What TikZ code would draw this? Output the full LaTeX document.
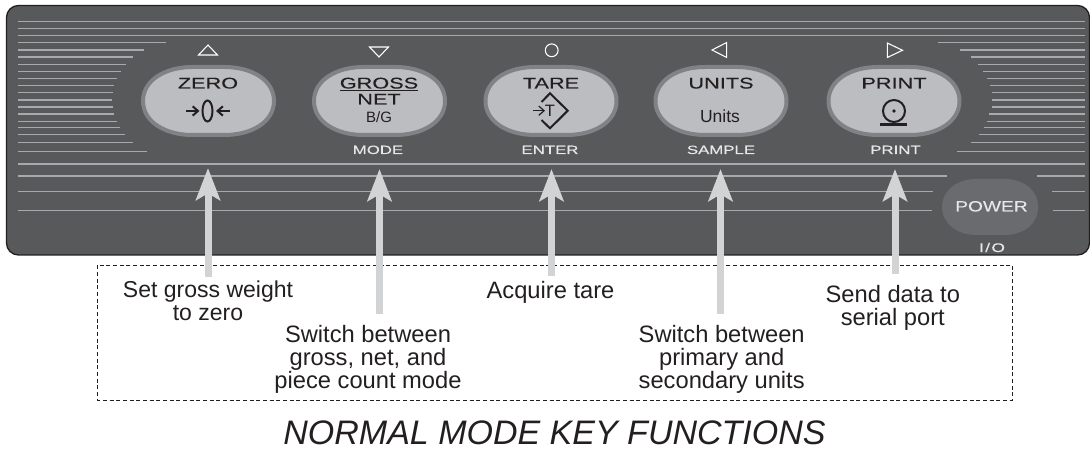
\documentclass[tikz,border=0pt]{standalone}
\usepackage{fontspec}
\usetikzlibrary{arrows.meta}
\setmainfont{Liberation Sans}
\newfontfamily\widefont[FakeStretch=1.4,FakeBold=0.15]{Liberation Sans}
\newfontfamily\powerfont[FakeStretch=1.28,FakeBold=0.15]{Liberation Sans}
\definecolor{panel}{HTML}{58595B}
\definecolor{rib}{HTML}{A7A9AC}
\definecolor{keyface}{HTML}{BCBDC0}
\definecolor{keyrim}{HTML}{808285}
\definecolor{powerface}{HTML}{6A6B6E}
\definecolor{ink}{HTML}{231F20}
\definecolor{shaft}{HTML}{D1D3D4}
\definecolor{legend}{HTML}{E6E7E8}
\newcommand{\px}[1]{\fontsize{\dimexpr#1pt*3/4\relax}{17.25pt}\selectfont}
\tikzset{
  x=0.75pt,y=-0.75pt,
  rib/.style={draw=rib,line width=0.85pt},
  keyshape/.style={draw=keyrim,fill=keyface,line width=3pt},
  keytop/.style={font=\widefont\px{15.5},text=ink,inner sep=0,anchor=base},
  keysub/.style={font=\px{15},text=ink,inner sep=0,anchor=base},
  legendtext/.style={font=\widefont\px{12},text=legend,inner sep=0,anchor=base},
  caption/.style={font=\px{23.7},text=ink,inner sep=0,anchor=north,align=center},
  pointer/.style={draw=shaft,line width=5.25pt,-{Stealth[length=24pt,width=18pt,inset=5pt]}},
  glyph/.style={draw=white,line width=0.8pt},
  icon/.style={draw=ink,line width=1.5pt},
  smallhead/.style={-{Straight Barb[length=4pt,width=7pt]}}
}
\newcommand{\keypath}[2]{(#1-65.5,#2) .. controls (#1-65.5,#2-21) and (#1-43,#2-34) .. (#1-16,#2-34) -- (#1+16,#2-34) .. controls (#1+43,#2-34) and (#1+65.5,#2-21) .. (#1+65.5,#2) .. controls (#1+65.5,#2+21) and (#1+43,#2+34) .. (#1+16,#2+34) -- (#1-16,#2+34) .. controls (#1-43,#2+34) and (#1-65.5,#2+21) .. (#1-65.5,#2) -- cycle}
\begin{document}
\begin{tikzpicture}
\useasboundingbox (0,0) rectangle (1090,449);
% panel
\draw[fill=panel,draw=ink,line width=1pt,rounded corners=9pt] (6.5,5.5) rectangle (1089.5,255);
% full ribs
\foreach \y in {21.7,28.7,35.7,164}
  \draw[rib] (18,\y) -- (1085,\y);
% left and right partial ribs
\foreach \y/\l/\r in {42.7/166/938,50/144/960,57/133/971,64.3/126/978,71.3/121/983,78.7/117/987,85.7/114/990,92.7/113/992,100/112/992,107/113/992,114/114/989,121.3/117/987,127.7/120/984,134.7/125/979,142.7/133/971,151.3/147/957}{
  \draw[rib] (18,\y) -- (\l,\y);
  \draw[rib] (\r,\y) -- (1085,\y);
}
\foreach \y/\l/\r in {176/947/1037,191.3/933/1052,210.3/932/1053}{
  \draw[rib] (18,\y) -- (\l,\y);
  \draw[rib] (\r,\y) -- (1085,\y);
}
% keys
\foreach \c in {208.5,379.5,551,721,894}
  \draw[keyshape] \keypath{\c}{101};
% power key
\fill[powerface] (942,207) .. controls (942,190) and (958,179) .. (976,179) -- (1004,179) .. controls (1024,179) and (1038,190) .. (1038,207) .. controls (1038,224) and (1024,235) .. (1004,235) -- (976,235) .. controls (958,235) and (942,224) .. (942,207) -- cycle;
% key names
\node[keytop] (zero) at (208,88.5) {ZERO};
\node[keytop] (gross) at (379,88.5) {GROSS};
\node[keytop] (net) at (379,104.5) {NET};
\node[keysub] (bg) at (379,122.3) {B/G};
\node[keytop] (tare) at (551,88.5) {TARE};
\node[keytop] (units) at (721,88.5) {UNITS};
\node[keysub,font=\px{17.5}] (unitsub) at (720,122.3) {Units};
\node[keytop] (print) at (894,88.5) {PRINT};
\draw[ink,line width=0.9pt] ([yshift=-1.3pt]gross.base west) -- ([yshift=-1.3pt]gross.base east);
% legends
\node[legendtext] (mode) at (378,154) {MODE};
\node[legendtext] (enter) at (550,154) {ENTER};
\node[legendtext] (sample) at (721,154) {SAMPLE};
\node[legendtext] (printl) at (895.5,154) {PRINT};
\node[font=\powerfont\px{15},text=legend,inner sep=0,anchor=base] (power) at (991.5,211.5) {POWER};
\node[legendtext,font=\widefont\px{12.5}] (io) at (992,252) {I\kern1pt/\kern1pt O};
% navigation glyphs
\draw[glyph] (198.5,55) -- (208,45) -- (217.5,55) -- cycle;
\draw[glyph] (369.5,47) -- (379,57) -- (388.5,47) -- cycle;
\draw[glyph] (551.7,50.3) circle (6.4);
\draw[glyph] (726.7,42.5) -- (712,50) -- (726.7,57.5) -- cycle;
\draw[glyph] (887.3,43) -- (902.5,50.3) -- (887.3,57.5) -- cycle;
% zero icon
\draw[icon] (207.5,111) ellipse (5 and 10.5);
\draw[icon,smallhead] (186,111) -- (199.5,111);
\draw[icon,smallhead] (229.5,111) -- (216,111);
% tare icon
\draw[icon] (541.5,102) -- (550,93.3) -- (567.7,110.7) -- (550,128.3) -- (541.5,120);
\draw[ink,line width=0.9pt,smallhead] (533,110.7) -- (545,110.7);
\node[font=\px{16.5},text=ink,inner sep=0] (tsym) at (550,110.7) {T};
% print icon
\draw[icon] (894,111) circle (11);
\fill[ink] (894,111) circle (1.9);
\draw[ink,line width=1.9pt] (880,124.3) -- (907,124.3);
% dashed box
\draw[ink,line width=0.6pt,dash pattern=on 3pt off 2pt] (97.7,265.3) rectangle (1012.7,400);
% pointers
\foreach \n/\x/\b/\t in {a/208/277/168,b/379.5/313.7/169,c/551.5/275.7/169,d/720.5/313.7/169,e/895/274/169}{
  \coordinate (\n from) at (\x,\b);
  \coordinate (\n to) at (\x,\t);
  \draw[pointer] (\n from) -- (\n to);
}
% captions
\node[caption,font=\px{23}] (capa) at (208,281) {\vphantom{Ag}Set gross weight\\to zero};
\node[caption] (capb) at (368,325) {\vphantom{Ag}Switch between\\gross, net, and\\piece count mode};
\node[caption] (capc) at (550.5,281) {\vphantom{Ag}Acquire tare};
\node[caption] (capd) at (721.7,325) {\vphantom{Ag}Switch between\\primary and\\secondary units};
\node[caption] (cape) at (892.8,285) {\vphantom{Ag}Send data to\\serial port};
\node[font=\itshape\px{34},text=ink,inner sep=0,anchor=base] (title) at (554.5,444) {NORMAL MODE KEY FUNCTIONS};
\end{tikzpicture}
\end{document}
